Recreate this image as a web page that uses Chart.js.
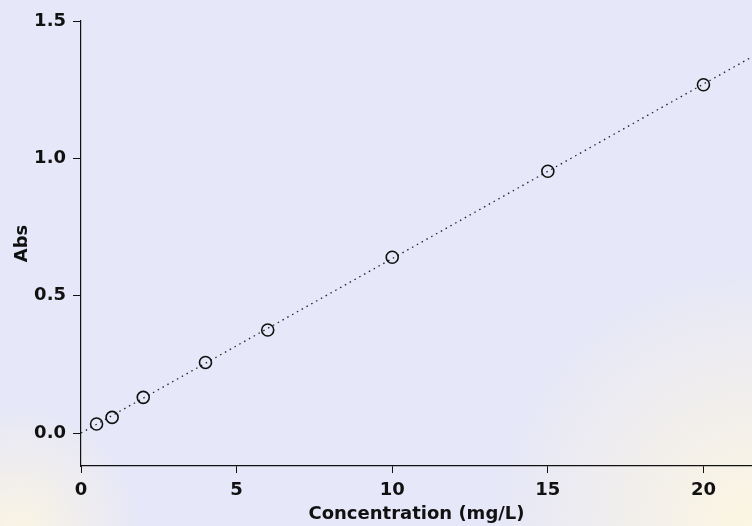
<!DOCTYPE html>
<html>
<head>
<meta charset="utf-8">
<script src="https://cdn.jsdelivr.net/npm/chart.js@4"></script>
<style>
  html, body { margin: 0; padding: 0; background: #e6e7f8; overflow: hidden; }
</style>
</head>
<body>
<canvas id="chart" width="752" height="526"></canvas>
<script>
// calibration data
const concX = [0.5, 1, 2, 4, 6, 10, 15, 20];
const absY = [0.033, 0.057, 0.13, 0.257, 0.375, 0.64, 0.953, 1.268];

// fitted line end points (dotted)
const fitX = [0, 21.6];
const fitY = [0.0, 1.372];

const xTicks = [0, 5, 10, 15, 20];
const yTicks = [0.0, 0.5, 1.0, 1.5];

const font = { family: '"DejaVu Sans", sans-serif', size: 18, weight: 'bold' };

// soft watermark-ish background
const bgPlugin = {
  id: 'bg',
  beforeDraw(chart) {
    const { ctx, width, height } = chart;
    ctx.save();
    ctx.fillStyle = '#e6e7f8';
    ctx.fillRect(0, 0, width, height);
    const g = ctx.createRadialGradient(width, height, 10, width, height, 260);
    g.addColorStop(0, 'rgba(252,246,225,0.95)');
    g.addColorStop(1, 'rgba(252,246,225,0)');
    ctx.fillStyle = g;
    ctx.fillRect(0, 0, width, height);
    const g2 = ctx.createRadialGradient(20, height, 10, 20, height, 120);
    g2.addColorStop(0, 'rgba(252,246,225,0.8)');
    g2.addColorStop(1, 'rgba(252,246,225,0)');
    ctx.fillStyle = g2;
    ctx.fillRect(0, 0, width, height);
    ctx.restore();
  }
};

new Chart(document.getElementById('chart'), {
  type: 'scatter',
  data: {
    datasets: [
      {
        label: 'Standards',
        data: concX.map((x, i) => ({ x, y: absY[i] })),
        pointRadius: 6,
        pointBorderWidth: 1.6,
        pointBorderColor: '#111',
        pointBackgroundColor: 'rgba(0,0,0,0)',
        showLine: false
      },
      {
        label: 'Fit',
        data: fitX.map((x, i) => ({ x, y: fitY[i] })),
        showLine: true,
        pointRadius: 0,
        borderColor: '#222',
        borderWidth: 1.3,
        borderDash: [1.5, 4]
      }
    ]
  },
  options: {
    responsive: false,
    animation: false,
    layout: { autoPadding: false, padding: { top: 21, right: 0, bottom: 0, left: 0 } },
    plugins: { legend: { display: false }, tooltip: { enabled: false } },
    scales: {
      x: {
        type: 'linear',
        min: 0,
        max: 21.56,
        afterBuildTicks: s => { s.ticks = xTicks.map(v => ({ value: v })); },
        afterFit: s => { s.height = 60; s.paddingRight = 0; s.paddingLeft = 0; },
        grid: { drawOnChartArea: false, drawTicks: true, tickLength: 7, color: '#111', lineWidth: 1 },
        border: { display: true, color: '#111', width: 1.2 },
        ticks: { color: '#111', font, padding: 7, maxRotation: 0, callback: v => v },
        title: { display: true, text: 'Concentration (mg/L)', color: '#111', font, padding: { top: 0, bottom: 1 } }
      },
      y: {
        type: 'linear',
        min: -0.12,
        max: 1.5,
        afterBuildTicks: s => { s.ticks = yTicks.map(v => ({ value: v })); },
        afterFit: s => { s.width = 81; s.paddingTop = 0; s.paddingBottom = 0; },
        grid: { drawOnChartArea: false, drawTicks: true, tickLength: 8, color: '#111', lineWidth: 1 },
        border: { display: true, color: '#111', width: 1.2 },
        ticks: { color: '#111', font, padding: 7, callback: v => v.toFixed(1) },
        title: { display: true, text: 'Abs', color: '#111', font, padding: { top: 12, bottom: 0 } }
      }
    }
  },
  plugins: [bgPlugin]
});
</script>
</body>
</html>
